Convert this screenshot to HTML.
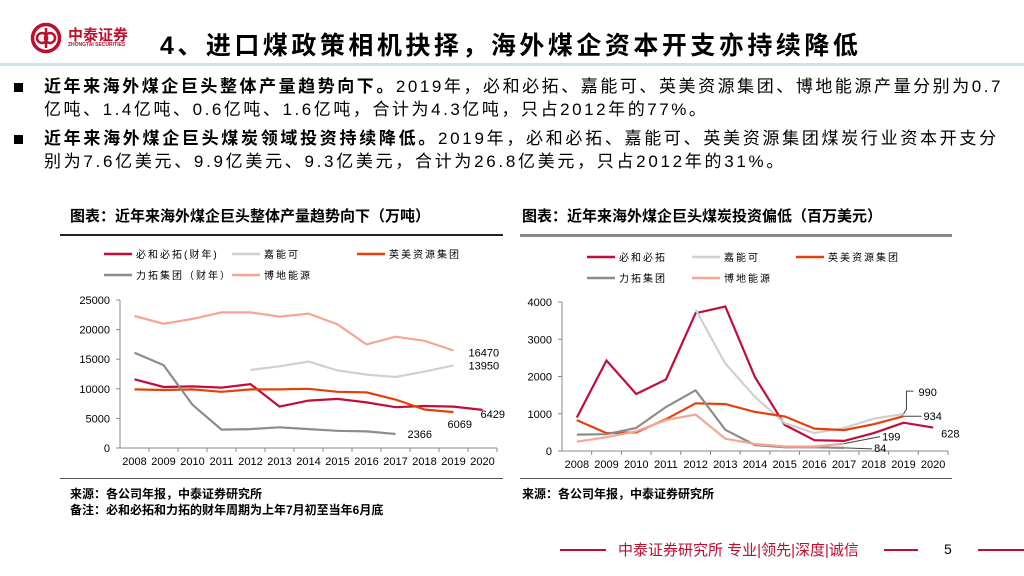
<!DOCTYPE html>
<html><head><meta charset="utf-8"><style>
body{margin:0;width:1024px;height:576px;background:#fff;position:relative;overflow:hidden;font-family:"Liberation Sans","Noto Sans CJK SC",sans-serif;color:#000}
.abs{position:absolute}
.b{font-size:17px;line-height:23px;left:44px;width:975px;letter-spacing:2.55px;white-space:nowrap}
.sq{position:absolute;left:-30px;top:8px;width:9px;height:9px;background:#000}
</style></head><body>
<div class="abs" style="left:30px;top:22px;width:32px;height:32px">
<svg width="32" height="32"><circle cx="16" cy="16" r="13.5" fill="none" stroke="#c00d2c" stroke-width="3.5"/><circle cx="12" cy="16" r="5" fill="none" stroke="#c00d2c" stroke-width="2.5"/><circle cx="20" cy="16" r="5" fill="none" stroke="#c00d2c" stroke-width="2.5"/><line x1="16" y1="6" x2="16" y2="26" stroke="#c00d2c" stroke-width="2.5"/></svg></div>
<div class="abs" style="left:68px;top:24px;font-size:15px;font-weight:bold;color:#c00d2c">中泰证券</div>
<div class="abs" style="left:68px;top:42px;font-size:5px;color:#c00d2c;font-weight:bold">ZHONGTAI SECURITIES</div>
<div class="abs" style="left:160px;top:26px;font-size:25px;font-weight:bold;letter-spacing:3.5px">4、进口煤政策相机抉择，海外煤企资本开支亦持续降低</div>
<div class="abs" style="left:0;top:63px;width:1024px;height:3px;background:#c9e4e8"></div>
<div class="abs b" style="top:75px"><span class="sq"></span><b>近年来海外煤企巨头整体产量趋势向下。</b>2019年，必和必拓、嘉能可、英美资源集团、博地能源产量分别为0.7<br>亿吨、1.4亿吨、0.6亿吨、1.6亿吨，合计为4.3亿吨，只占2012年的77%。</div>
<div class="abs b" style="top:127px;letter-spacing:2.7px"><span class="sq"></span><b>近年来海外煤企巨头煤炭领域投资持续降低。</b>2019年，必和必拓、嘉能可、英美资源集团煤炭行业资本开支分<br>别为7.6亿美元、9.9亿美元、9.3亿美元，合计为26.8亿美元，只占2012年的31%。</div>
<div class="abs" style="left:70px;top:205px;font-size:15px;font-weight:bold">图表：近年来海外煤企巨头整体产量趋势向下（万吨）</div>
<div class="abs" style="left:522px;top:205px;font-size:15px;font-weight:bold">图表：近年来海外煤企巨头煤炭投资偏低（百万美元）</div>
<div class="abs" style="left:60px;top:234px;width:443px;height:2px;background:#222"></div>
<div class="abs" style="left:520px;top:234px;width:432px;height:3px;background:#888"></div>
<div class="abs" style="left:60px;top:478px;width:443px;height:1px;background:#555"></div>
<div class="abs" style="left:520px;top:478px;width:432px;height:1px;background:#555"></div>
<div class="abs" style="left:70px;top:485px;font-size:12px;font-weight:bold">来源：各公司年报，中泰证券研究所</div>
<div class="abs" style="left:70px;top:501px;font-size:12px;font-weight:bold">备注：必和必拓和力拓的财年周期为上年7月初至当年6月底</div>
<div class="abs" style="left:522px;top:485px;font-size:12px;font-weight:bold">来源：各公司年报，中泰证券研究所</div>
<div class="abs" style="left:560px;top:549px;width:46px;height:2px;background:#c00d2c"></div>
<div class="abs" style="left:618px;top:539px;font-size:15px;color:#c00d2c">中泰证券研究所 专业|领先|深度|诚信</div>
<div class="abs" style="left:884px;top:549px;width:34px;height:2px;background:#c00d2c"></div>
<div class="abs" style="left:944px;top:541px;font-size:14px">5</div>
<div class="abs" style="left:978px;top:549px;width:46px;height:2px;background:#c00d2c"></div>
<svg class="abs" style="left:0;top:0" width="1024" height="576" id="svg"></svg>
<script>
const years=["2008","2009","2010","2011","2012","2013","2014","2015","2016","2017","2018","2019","2020"];
const names1=["必和必拓(财年)","嘉能可","英美资源集团","力拓集团（财年）","博地能源"];
const names2=["必和必拓","嘉能可","英美资源集团","力拓集团","博地能源"];
const colors=["#c00d3c","#d0d0d0","#e5400c","#8c8c8c","#f7a593"];
const bhp1=[11600,10300,10400,10200,10800,7000,8000,8300,7700,6900,7100,7000,6429];
const gle1=[null,null,null,null,13200,13800,14600,13100,12400,12000,12900,13950,null];
const aa1=[9900,9800,9900,9500,9900,9900,10000,9500,9400,8200,6500,6069,null];
const rio1=[16100,14000,7300,3100,3200,3500,3200,2900,2800,2366,null,null,null];
const btu1=[22300,21000,21800,22900,22900,22200,22700,20900,17500,18800,18100,16470,null];
const bhp2=[900,2430,1530,1920,3700,3880,1980,700,290,270,480,760,628];
const gle2=[null,null,null,null,3800,2350,1450,750,480,620,870,990,null];
const aa2=[830,480,500,850,1280,1260,1050,930,600,560,720,934,null];
const rio2=[440,450,620,1180,1630,570,160,100,100,84,null,null,null];
const btu2=[250,370,530,830,980,330,190,120,120,199,null,null,null];
const ticks1=[0,5000,10000,15000,20000,25000];
const ticks2=[0,1000,2000,3000,4000];
const svg=document.getElementById('svg');
const NS='http://www.w3.org/2000/svg';
function mk(t,a,name,txt){const e=document.createElementNS(NS,t);for(const k in a)e.setAttribute(k,a[k]);


if(txt!=null)e.textContent=txt;svg.appendChild(e);return e;}
function chart(p,series,names,ticks,max,labels,legY){
 const bw=(p.x1-p.x0)/years.length;
 const X=i=>p.x0+bw*(i+0.5), Y=v=>p.y0-(v/max)*(p.y0-p.y1);
 mk('line',{x1:p.x0,y1:p.y1,x2:p.x0,y2:p.y0,stroke:'#888'},p.id+'-y-axis');
 mk('line',{x1:p.x0,y1:p.y0,x2:p.x1,y2:p.y0,stroke:'#888'},p.id+'-x-axis');
 ticks.forEach(t=>{mk('line',{x1:p.x0-4,y1:Y(t),x2:p.x0,y2:Y(t),stroke:'#888'},p.id+'-y-tick');
  mk('text',{x:p.x0-10,y:Y(t)+4,'font-size':11,'text-anchor':'end'},p.id+'-y-tick-label',t);});
 years.forEach((y,i)=>{mk('line',{x1:p.x0+bw*(i+1),y1:p.y0,x2:p.x0+bw*(i+1),y2:p.y0+4,stroke:'#888'},p.id+'-x-tick');
  mk('text',{x:X(i),y:p.y0+17,'font-size':11,'text-anchor':'middle'},p.id+'-x-tick-label',y);});
 series.forEach((s,k)=>{let d='';s.forEach((v,i)=>{if(v==null)return;d+=(d?'L':'M')+X(i).toFixed(1)+','+Y(v).toFixed(1);});
  mk('path',{d:d,fill:'none',stroke:colors[k],'stroke-width':2.2},p.id+'-series-'+k);});
 names.forEach((n,k)=>{const lx=p.lx[k%3],ly=legY+(k>=3?21:0);
  mk('line',{x1:lx,y1:ly,x2:lx+28,y2:ly,stroke:colors[k],'stroke-width':2.5},p.id+'-legend-swatch');
  mk('text',{x:lx+32,y:ly+4,'font-size':10,'letter-spacing':2},p.id+'-legend-label',n);});
 labels.forEach(l=>{const s=series[l.s];let i=s.length-1;while(s[i]==null)i--;
  if(l.lead)mk('path',{d:`M${X(i)},${Y(s[i])}`+l.lead(X(i),Y(s[i])),fill:'none',stroke:'#444'},p.id+'-leader');
  mk('text',{x:X(i)+l.dx,y:Y(s[i])+l.dy,'font-size':11},p.id+'-value-label',s[i]);});
}
chart({id:'chart1',x0:120,x1:497,y0:448,y1:300,lx:[104,232,357]},[bhp1,gle1,aa1,rio1,btu1],names1,ticks1,25000,
 [{s:4,dx:15,dy:6},{s:1,dx:15,dy:4},{s:0,dx:-2,dy:8},{s:2,dx:-6,dy:16},{s:3,dx:12,dy:4}],254);
chart({id:'chart2',x0:562,x1:948,y0:451,y1:302,lx:[587,692,796]},[bhp2,gle2,aa2,rio2,btu2],names2,ticks2,4000,
 [{s:1,dx:15,dy:-18,lead:(x,y)=>`L${x+3},${y-5}L${x+3},${y-23}L${x+10},${y-23}`},
  {s:2,dx:20,dy:4,lead:(x,y)=>`L${x+18},${y}`},{s:0,dx:8,dy:10},
  {s:4,dx:38,dy:-3,lead:(x,y)=>`L${x+36},${y-7}`},{s:3,dx:30,dy:4,lead:(x,y)=>`L${x+28},${y+1}`}],257);
</script>
</body></html>
